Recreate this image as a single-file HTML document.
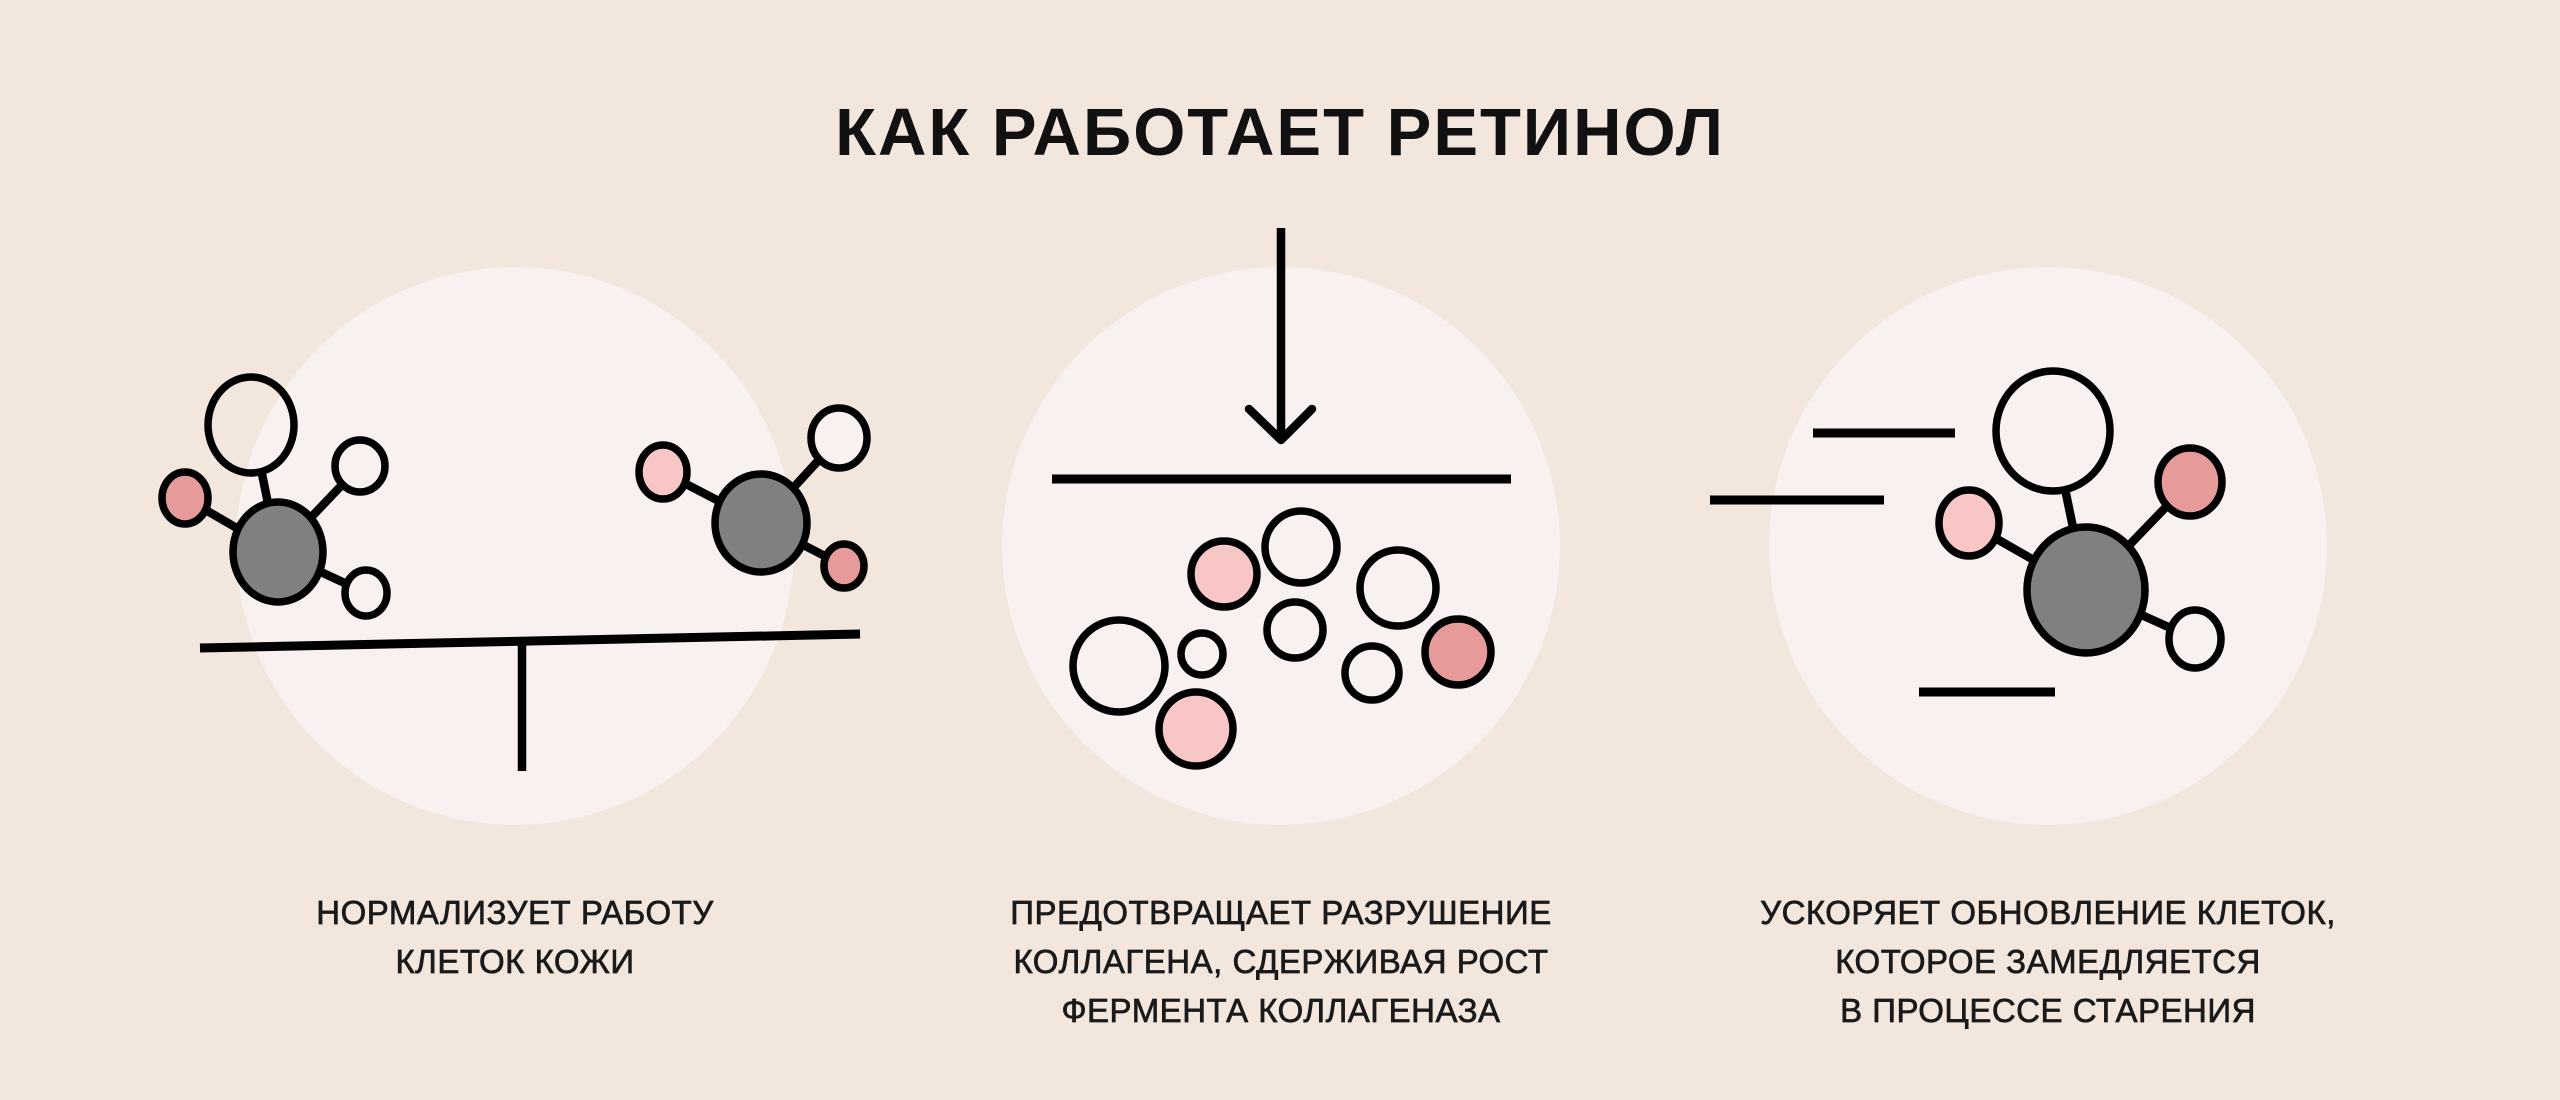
<!DOCTYPE html>
<html><head><meta charset="utf-8"><style>
html,body{margin:0;padding:0;background:#f2e6dd;}
body{width:2560px;height:1100px;position:relative;overflow:hidden;font-family:"Liberation Sans","DejaVu Sans",sans-serif;}
.t{position:absolute;left:0;width:2560px;text-align:center;top:94px;font-size:67px;font-weight:bold;letter-spacing:2px;color:#111;}
.c{position:absolute;width:700px;text-align:center;font-size:33px;line-height:49px;color:#1a1a1a;letter-spacing:0.5px;top:888px;-webkit-text-stroke:0.7px #1a1a1a;}
</style></head><body>
<svg width="2560" height="1100" style="position:absolute;left:0;top:0">
<g fill="#f8f1f0">
<circle cx="515" cy="546" r="279"/><circle cx="1281" cy="546" r="279"/><circle cx="2048" cy="546" r="279"/>
</g>
<g stroke="#000" stroke-width="8.5" fill="none">
<line x1="200" y1="648" x2="860" y2="634" stroke-width="9"/>
<line x1="522" y1="640" x2="522" y2="771"/>
<line x1="278" y1="552" x2="262" y2="474"/><line x1="278" y1="552" x2="185" y2="498"/>
<line x1="278" y1="552" x2="360" y2="466"/><line x1="278" y1="552" x2="366" y2="593"/>
<line x1="761" y1="523" x2="663" y2="472"/><line x1="761" y1="523" x2="839" y2="438"/><line x1="761" y1="523" x2="844" y2="566"/>
<line x1="1281" y1="228" x2="1281" y2="438"/>
<polyline points="1249,409 1281,440 1312,409" stroke-linecap="round" stroke-linejoin="round"/>
<line x1="1052" y1="479" x2="1511" y2="479" stroke-width="9"/>
<line x1="1813" y1="433" x2="1955" y2="433" stroke-width="9"/>
<line x1="1710" y1="500" x2="1884" y2="500" stroke-width="9"/>
<line x1="1919" y1="692" x2="2055" y2="692" stroke-width="9"/>
<line x1="2086" y1="590" x2="2053" y2="431"/><line x1="2086" y1="590" x2="1969" y2="523"/>
<line x1="2086" y1="590" x2="2190" y2="482"/><line x1="2086" y1="590" x2="2195" y2="639"/>
</g>
<g stroke="#000" stroke-width="7.5">
<ellipse cx="251" cy="425" rx="43" ry="48" fill="none"/>
<ellipse cx="185" cy="498" rx="23" ry="26" fill="#e69a9a"/>
<ellipse cx="360" cy="466" rx="25" ry="26" fill="#f8f1f0"/>
<ellipse cx="366" cy="593" rx="21" ry="23" fill="#f8f1f0"/>
<ellipse cx="278" cy="552" rx="45" ry="50" fill="#808080"/>
<ellipse cx="663" cy="472" rx="24" ry="27" fill="#f9c6c6"/>
<ellipse cx="839" cy="438" rx="28" ry="30" fill="#f8f1f0"/>
<ellipse cx="844" cy="566" rx="20" ry="22" fill="#e69a9a"/>
<ellipse cx="761" cy="523" rx="46" ry="49" fill="#808080"/>
<circle cx="1224" cy="574" r="33" fill="#f9c6c6"/>
<circle cx="1301" cy="547" r="36" fill="#f8f1f0"/>
<circle cx="1398" cy="588" r="38" fill="#f8f1f0"/>
<circle cx="1295" cy="630" r="28" fill="#f8f1f0"/>
<circle cx="1119" cy="666" r="46" fill="#f8f1f0"/>
<circle cx="1202" cy="654" r="21" fill="#f8f1f0"/>
<circle cx="1196" cy="729" r="37" fill="#f9c6c6"/>
<circle cx="1372" cy="673" r="27" fill="#f8f1f0"/>
<circle cx="1458" cy="652" r="33" fill="#e69a9a"/>
<ellipse cx="2053" cy="431" rx="57" ry="60" fill="#f8f1f0"/>
<ellipse cx="1969" cy="523" rx="30" ry="33" fill="#f9c6c6"/>
<ellipse cx="2190" cy="482" rx="32" ry="34" fill="#e69a9a"/>
<ellipse cx="2195" cy="639" rx="26" ry="29" fill="#f8f1f0"/>
<ellipse cx="2086" cy="590" rx="59" ry="63" fill="#808080"/>
</g>
</svg>
<div class="t">КАК РАБОТАЕТ РЕТИНОЛ</div>
<div class="c" style="left:165px">НОРМАЛИЗУЕТ РАБОТУ<br>КЛЕТОК КОЖИ</div>
<div class="c" style="left:931px">ПРЕДОТВРАЩАЕТ РАЗРУШЕНИЕ<br>КОЛЛАГЕНА, СДЕРЖИВАЯ РОСТ<br>ФЕРМЕНТА КОЛЛАГЕНАЗА</div>
<div class="c" style="left:1698px">УСКОРЯЕТ ОБНОВЛЕНИЕ КЛЕТОК,<br>КОТОРОЕ ЗАМЕДЛЯЕТСЯ<br>В ПРОЦЕССЕ СТАРЕНИЯ</div>
</body></html>
